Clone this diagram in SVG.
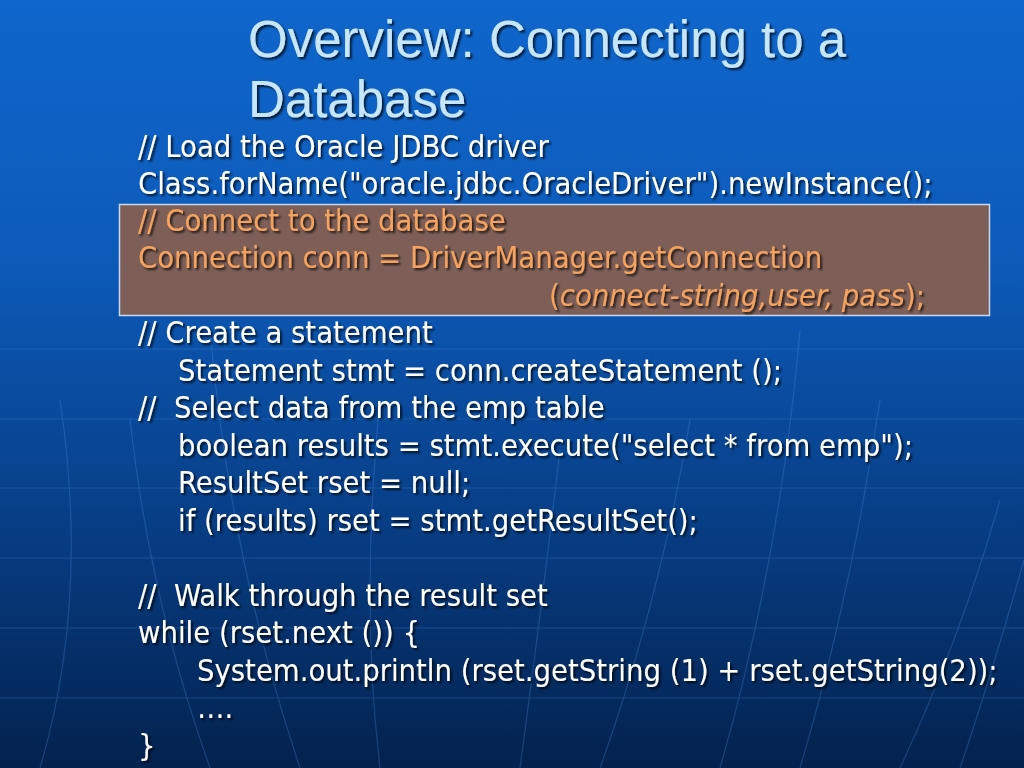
<svg xmlns="http://www.w3.org/2000/svg" width="1024" height="768" viewBox="0 0 1024 768">
<defs>
<linearGradient id="bg" x1="0" y1="0" x2="0" y2="1">
<stop offset="0" stop-color="#0F66CC"/>
<stop offset="0.35" stop-color="#0C5AB8"/>
<stop offset="0.7" stop-color="#073C82"/>
<stop offset="1" stop-color="#03224E"/>
</linearGradient>
<filter id="sh" x="-5%" y="-20%" width="110%" height="140%">
<feDropShadow dx="2" dy="2" stdDeviation="0.8" flood-color="#000000" flood-opacity="0.75"/>
</filter>
</defs>
<style>
.t{font-family:"DejaVu Sans Condensed","DejaVu Sans",sans-serif;font-size:30.6px;fill:#FFFFFF;filter:url(#sh)}
.o{fill:#F5A25E}
.title{font-family:"Liberation Sans",Arial,sans-serif;font-size:51px;fill:#C8E6FA;filter:url(#sh)}
.grid{stroke:#5A9BE6;stroke-width:1.2;fill:none;opacity:0.25}
</style>
<rect width="1024" height="768" fill="url(#bg)"/>
<g id="background-lines" class="grid">
<line x1="0" y1="349" x2="1024" y2="349"/>
<line x1="0" y1="419" x2="1024" y2="419"/>
<line x1="0" y1="488" x2="1024" y2="488"/>
<line x1="0" y1="558" x2="1024" y2="558"/>
<line x1="0" y1="628" x2="1024" y2="628"/>
<line x1="0" y1="698" x2="1024" y2="698"/>
<path d="M60 400 Q90 600 40 768"/>
<path d="M130 420 Q150 600 210 768"/>
<path d="M210 330 Q230 560 300 768"/>
<path d="M380 400 Q360 600 380 768"/>
<path d="M560 450 Q540 620 520 768"/>
<path d="M690 420 Q660 600 600 768"/>
<path d="M800 330 Q780 560 720 768"/>
<path d="M880 400 Q850 600 800 768"/>
<path d="M1000 500 Q960 640 900 768"/>
<path d="M1024 560 Q990 680 960 768"/>
</g>
<g id="title">
<text class="title" x="248" y="57">Overview: Connecting to a</text>
<text class="title" x="248" y="117">Database</text>
</g>
<g id="highlight-box">
<rect x="119.5" y="204.5" width="870" height="111" fill="#7D5F58" stroke="#C8D8EE" stroke-width="1.5"/>
</g>
<g id="code">
<text class="t" x="138" y="157">// Load the Oracle JDBC driver</text>
<text class="t" x="138" y="194">Class.forName("oracle.jdbc.OracleDriver").newInstance();</text>
<text class="t o" x="138" y="231">// Connect to the database</text>
<text class="t o" x="138" y="268">Connection conn = DriverManager.getConnection</text>
<text class="t o" x="549" y="306">(<tspan font-style="italic">connect-string,user, pass</tspan>);</text>
<text class="t" x="138" y="343">// Create a statement</text>
<text class="t" x="178" y="381">Statement stmt = conn.createStatement ();</text>
<text class="t" x="138" y="418" xml:space="preserve">//  Select data from the emp table</text>
<text class="t" x="178" y="456">boolean results = stmt.execute("select * from emp");</text>
<text class="t" x="178" y="493">ResultSet rset = null;</text>
<text class="t" x="178" y="531">if (results) rset = stmt.getResultSet();</text>
<text class="t" x="138" y="606" xml:space="preserve">//  Walk through the result set</text>
<text class="t" x="138" y="643">while (rset.next ()) {</text>
<text class="t" x="197" y="681">System.out.println (rset.getString (1) + rset.getString(2));</text>
<text class="t" x="197" y="718">….</text>
<text class="t" x="138" y="756">}</text>
</g>
</svg>
